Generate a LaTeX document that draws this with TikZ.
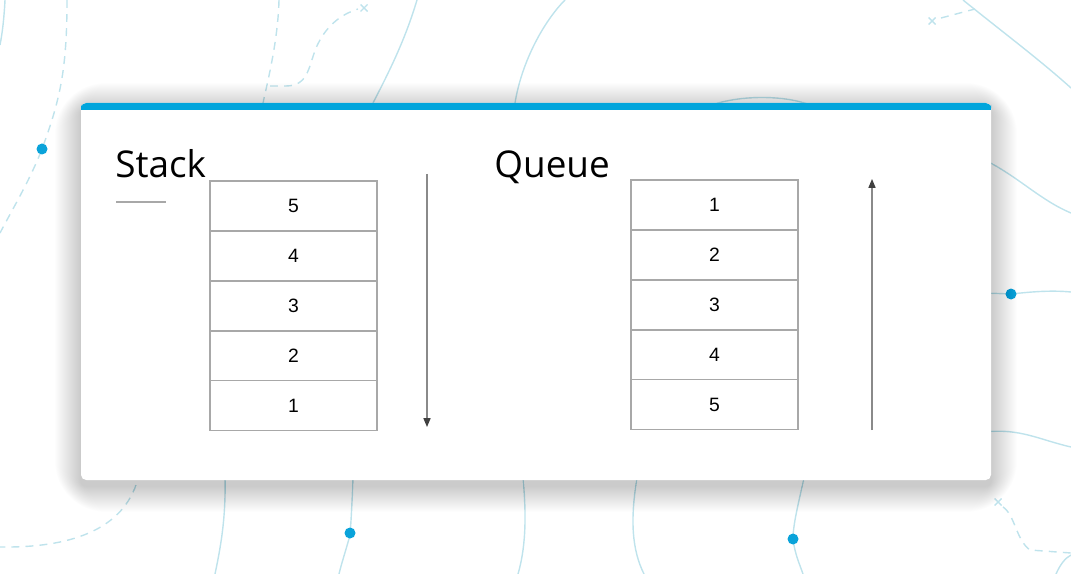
\documentclass[tikz,border=0pt]{standalone}
\usepackage{fontspec}
\setmainfont{Liberation Sans}
\newfontfamily\titlefont{Open Sans}
\usepackage{tikz}
\usetikzlibrary{arrows.meta,positioning}
\definecolor{barblue}{HTML}{00A5DC}
\definecolor{dotblue}{HTML}{0AA3DA}
\definecolor{curve}{HTML}{BFE3EC}
\definecolor{cellgray}{HTML}{A8A8A8}
\definecolor{arrowgray}{HTML}{8A8A8A}
\tikzset{
  bgline/.style={curve,line width=0.8pt},
  bgdash/.style={curve,line width=0.8pt,dash pattern=on 4.5pt off 3.5pt},
  cell/.style={draw=cellgray,line width=0.6pt,minimum width=3.34cm,minimum height=1cm,
    inner sep=0pt,outer sep=0pt,font=\fontsize{11}{13}\selectfont},
  title/.style={anchor=base west,inner sep=0pt,font=\titlefont\fontsize{21}{25}\selectfont},
  flow/.style={arrowgray,line width=0.7pt,-{Triangle[length=5pt,width=4pt,color=black!75]}},
}
\newcommand{\xmark}[2]{\draw[curve,line width=0.8pt] (#1-3.5,#2-3.5) -- (#1+3.5,#2+3.5) (#1-3.5,#2+3.5) -- (#1+3.5,#2-3.5);}
\begin{document}
\begin{tikzpicture}[x=0.02cm,y=-0.02cm]
  \useasboundingbox (0,0) rectangle (1071,574);
  % background curves
  \draw[bgline] (5,0) .. controls (4,20) and (2,35) .. (0,45);
  \draw[bgdash] (67,0) .. controls (67,70) and (60,100) .. (42,149) .. controls (30,180) and (12,210) .. (0,233);
  \draw[bgdash] (279,0) .. controls (278,40) and (268,80) .. (263,103);
  \draw[bgdash] (270,86) -- (286,86) .. controls (312,86) and (308,60) .. (320,40) .. controls (330,22) and (345,13) .. (358,9);
  \xmark{364}{8}
  \draw[bgline] (417,0) .. controls (405,40) and (390,70) .. (373,103);
  \draw[bgline] (565,0) .. controls (545,20) and (522,60) .. (515,103);
  \draw[bgline] (712,105) .. controls (740,95) and (785,95) .. (810,105);
  \xmark{932}{21}
  \draw[bgdash] (941,18) -- (975,9);
  \draw[bgline] (963,0) .. controls (1000,30) and (1040,60) .. (1071,88);
  \draw[bgline] (985,160) .. controls (1020,178) and (1040,200) .. (1071,213);
  \draw[bgline] (985,293) -- (1011,294) .. controls (1030,292) and (1050,290) .. (1071,292);
  \draw[bgline] (985,432) .. controls (1020,428) and (1040,440) .. (1071,447);
  \draw[bgdash] (136,485) .. controls (120,530) and (70,548) .. (0,547);
  \draw[bgline] (225,478) .. controls (226,520) and (220,550) .. (215,574);
  \draw[bgline] (353,478) .. controls (352,505) and (351,522) .. (350,535) .. controls (346,550) and (341,565) .. (339,574);
  \draw[bgline] (523,478) .. controls (527,520) and (525,550) .. (518,574);
  \draw[bgline] (637,478) .. controls (630,520) and (632,550) .. (644,574);
  \draw[bgline] (804,478) .. controls (798,505) and (793,525) .. (793,539) .. controls (795,555) and (800,565) .. (803,574);
  \xmark{998}{502}
  \draw[bgdash] (1003,507) .. controls (1015,515) and (1016,540) .. (1030,550) -- (1071,553);
  \draw[bgline] (1056,574) .. controls (1060,565) and (1065,558) .. (1071,555);
  \foreach \p in {(42,149),(1011,294),(350,533),(793,539)}
    \fill[dotblue] \p circle (5.5);
  % card with soft shadow
  \foreach \i in {1,...,26}
    \fill[black,opacity=0.0065,rounded corners=\i+3] (81-\i,103-\i+6) rectangle (991+\i,480+\i+6);
  \fill[white,rounded corners=3] (81,103) rectangle (991,480);
  \fill[barblue,rounded corners=3] (81,103) rectangle (991,110);
  \fill[barblue] (81,107) rectangle (991,110);
  % stack
  \node[title] (stacktitle) at (115,178) {Stack};
  \draw[cellgray,line width=1.1pt] (116,202) -- (166,202);
  \node[cell] (s5) at (293.5,206) {5};
  \node[cell,below=0pt of s5] (s4) {4};
  \node[cell,below=0pt of s4] (s3) {3};
  \node[cell,below=0pt of s3] (s2) {2};
  \node[cell,below=0pt of s2] (s1) {1};
  \coordinate (stacktop) at (427,174);
  \coordinate (stackend) at (427,427);
  \draw[flow] (stacktop) -- (stackend);
  % queue
  \node[title] (queuetitle) at (494,178) {Queue};
  \node[cell] (q1) at (714.5,205) {1};
  \node[cell,below=0pt of q1] (q2) {2};
  \node[cell,below=0pt of q2] (q3) {3};
  \node[cell,below=0pt of q3] (q4) {4};
  \node[cell,below=0pt of q4] (q5) {5};
  \coordinate (queuestart) at (872,430);
  \coordinate (queueend) at (872,179);
  \draw[flow] (queuestart) -- (queueend);
\end{tikzpicture}
\end{document}
